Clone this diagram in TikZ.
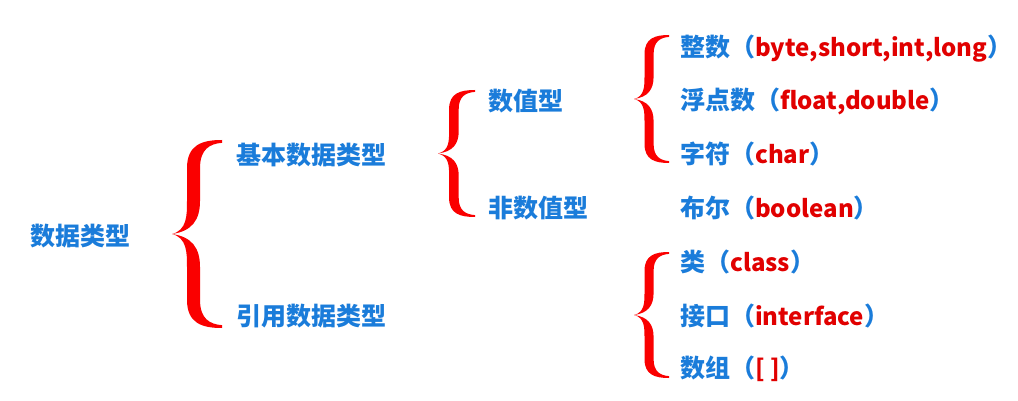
\documentclass[tikz,border=0pt]{standalone}
\usepackage{fontspec}
\setmainfont{Noto Sans CJK SC}
\usepackage{xcolor}

\definecolor{labelblue}{RGB}{26,124,218}
\definecolor{keyred}{RGB}{225,0,0}
\definecolor{bracered}{RGB}{250,0,0}

% one half of a curly brace, tip at (0,0), end at (1,1)
\newcommand{\halfbrace}{(0,0) .. controls (0.3,0.04) and (0.3,0.2) .. (0.3,0.35) -- (0.3,0.7) .. controls (0.3,0.95) and (0.6,1) .. (1,1) -- (1,0.97) .. controls (0.75,0.96) and (0.56,0.9) .. (0.56,0.7) -- (0.56,0.35) .. controls (0.56,0.15) and (0.4,0.03) .. (0,0) -- cycle}
% tip x, top y, bottom y, width
\newcommand{\drawbrace}[4]{%
  \pgfmathsetmacro\bmid{(#2+#3)/2}%
  \pgfmathsetmacro\bhalf{(#3-#2)/2}%
  \begin{scope}[shift={(#1,\bmid)},xscale=#4,yscale=-\bhalf]
    \fill[bracered] \halfbrace;
  \end{scope}
  \begin{scope}[shift={(#1,\bmid)},xscale=#4,yscale=\bhalf]
    \fill[bracered] \halfbrace;
  \end{scope}}
\newcommand{\kw}[1]{\textcolor{keyred}{\fontsize{24}{24}\selectfont #1}}

\begin{document}
\begin{tikzpicture}[x=1pt,y=-1pt,
  lbl/.style={anchor=west,inner sep=0pt,text height=22pt,text depth=4pt,
    text=labelblue,font=\bfseries\fontsize{25}{25}\selectfont}]
\useasboundingbox[fill=white] (0,0) rectangle (1018,401);

% first level
\node[lbl] (dtype) at (30,236) {数据类型};
\drawbrace{172}{140}{328}{50}
\node[lbl] (basic) at (236,156) {基本数据类型};
\node[lbl] (ref) at (236,316) {引用数据类型};

% basic types
\drawbrace{438}{90}{217}{37}
\node[lbl] (numeric) at (488,102) {数值型};
\node[lbl] (nonnum) at (488,209) {非数值型};

% numeric types
\drawbrace{634}{35}{163}{35}
\node[lbl] (intg) at (680,48) {整数（\kw{byte,short,int,long}）};
\node[lbl] (flt) at (680,101) {浮点数（\kw{float,double}）};
\node[lbl] (chr) at (680,155) {字符（\kw{char}）};
\node[lbl] (bool) at (680,209) {布尔（\kw{boolean}）};

% reference types
\drawbrace{634}{252}{378}{35}
\node[lbl] (cls) at (680,262) {类（\kw{class}）};
\node[lbl] (iface) at (680,316) {接口（\kw{interface}）};
\node[lbl] (arr) at (680,368) {数组（\kw{[ ]}）};
\end{tikzpicture}
\end{document}
